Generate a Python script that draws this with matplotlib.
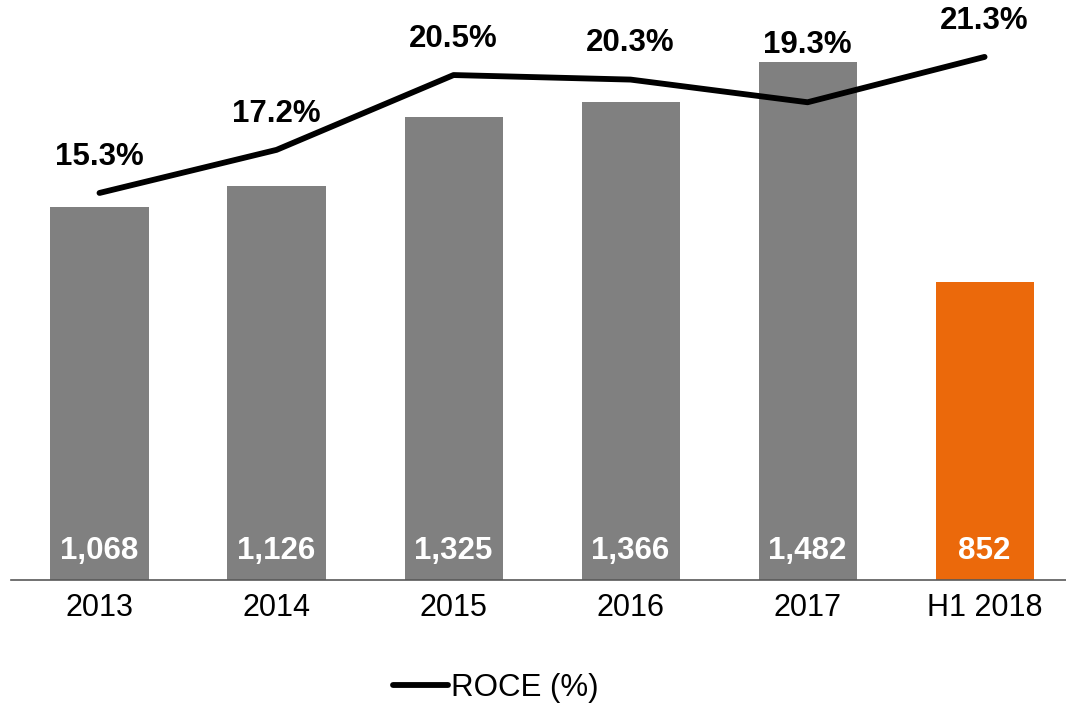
import matplotlib.pyplot as plt
from matplotlib.lines import Line2D

plt.rcParams['font.family'] = ['Liberation Sans', 'DejaVu Sans']

# data
years = ['2013', '2014', '2015', '2016', '2017', 'H1 2018']
values = [1068, 1126, 1325, 1366, 1482, 852]
value_labels = ['1,068', '1,126', '1,325', '1,366', '1,482', '852']
roce = [15.3, 17.2, 20.5, 20.3, 19.3, 21.3]

colors = ['#808080'] * 5 + ['#EB690B']
x = list(range(len(years)))
# label offsets (points) above the line, 2017 pushed up above its bar
label_dy = [26, 26, 26, 26, 41, 26]

fig = plt.figure(figsize=(10.66, 7.05), dpi=100)
ax = fig.add_axes([11 / 1066, 125 / 705, 1055 / 1066, 580 / 705])

ax.bar(x, values, width=0.554, color=colors, zorder=2)
ax.set_xlim(-0.5, 5.46)
ax.set_ylim(0, 1659)

for xi, lab in zip(x, value_labels):
    ax.text(xi, 84, lab, ha='center', va='center', color='white',
            fontsize=22.5, fontweight='bold', zorder=3)

ax.set_xticks(x)
ax.set_xticklabels(years, fontsize=22)
ax.tick_params(axis='x', length=0, pad=9)
ax.set_yticks([])
for s in ['top', 'right', 'left']:
    ax.spines[s].set_visible(False)
ax.spines['bottom'].set_color('#595959')
ax.spines['bottom'].set_linewidth(1.2)

# ROCE line on secondary axis
ax2 = ax.twinx()
ax2.set_ylim(-1.77, 23.81)
ax2.plot(x, roce, color='black', lw=4.2, solid_capstyle='round', zorder=4)
for xi, r, dy in zip(x, roce, label_dy):
    ax2.annotate(f'{r}%', (xi, r), xytext=(0, dy), textcoords='offset points',
                 ha='center', va='center', fontsize=22.5, fontweight='bold')
ax2.set_yticks([])
for s in ['top', 'right', 'left', 'bottom']:
    ax2.spines[s].set_visible(False)

handle = Line2D([0], [0], color='black', lw=4.2, solid_capstyle='round')
fig.legend([handle], ['ROCE (%)'], loc='center', bbox_to_anchor=(496 / 1066, 1 - 688 / 705),
           frameon=False, fontsize=22.5, handlelength=1.75, handletextpad=0.1)

plt.savefig('out.png', dpi=100)
